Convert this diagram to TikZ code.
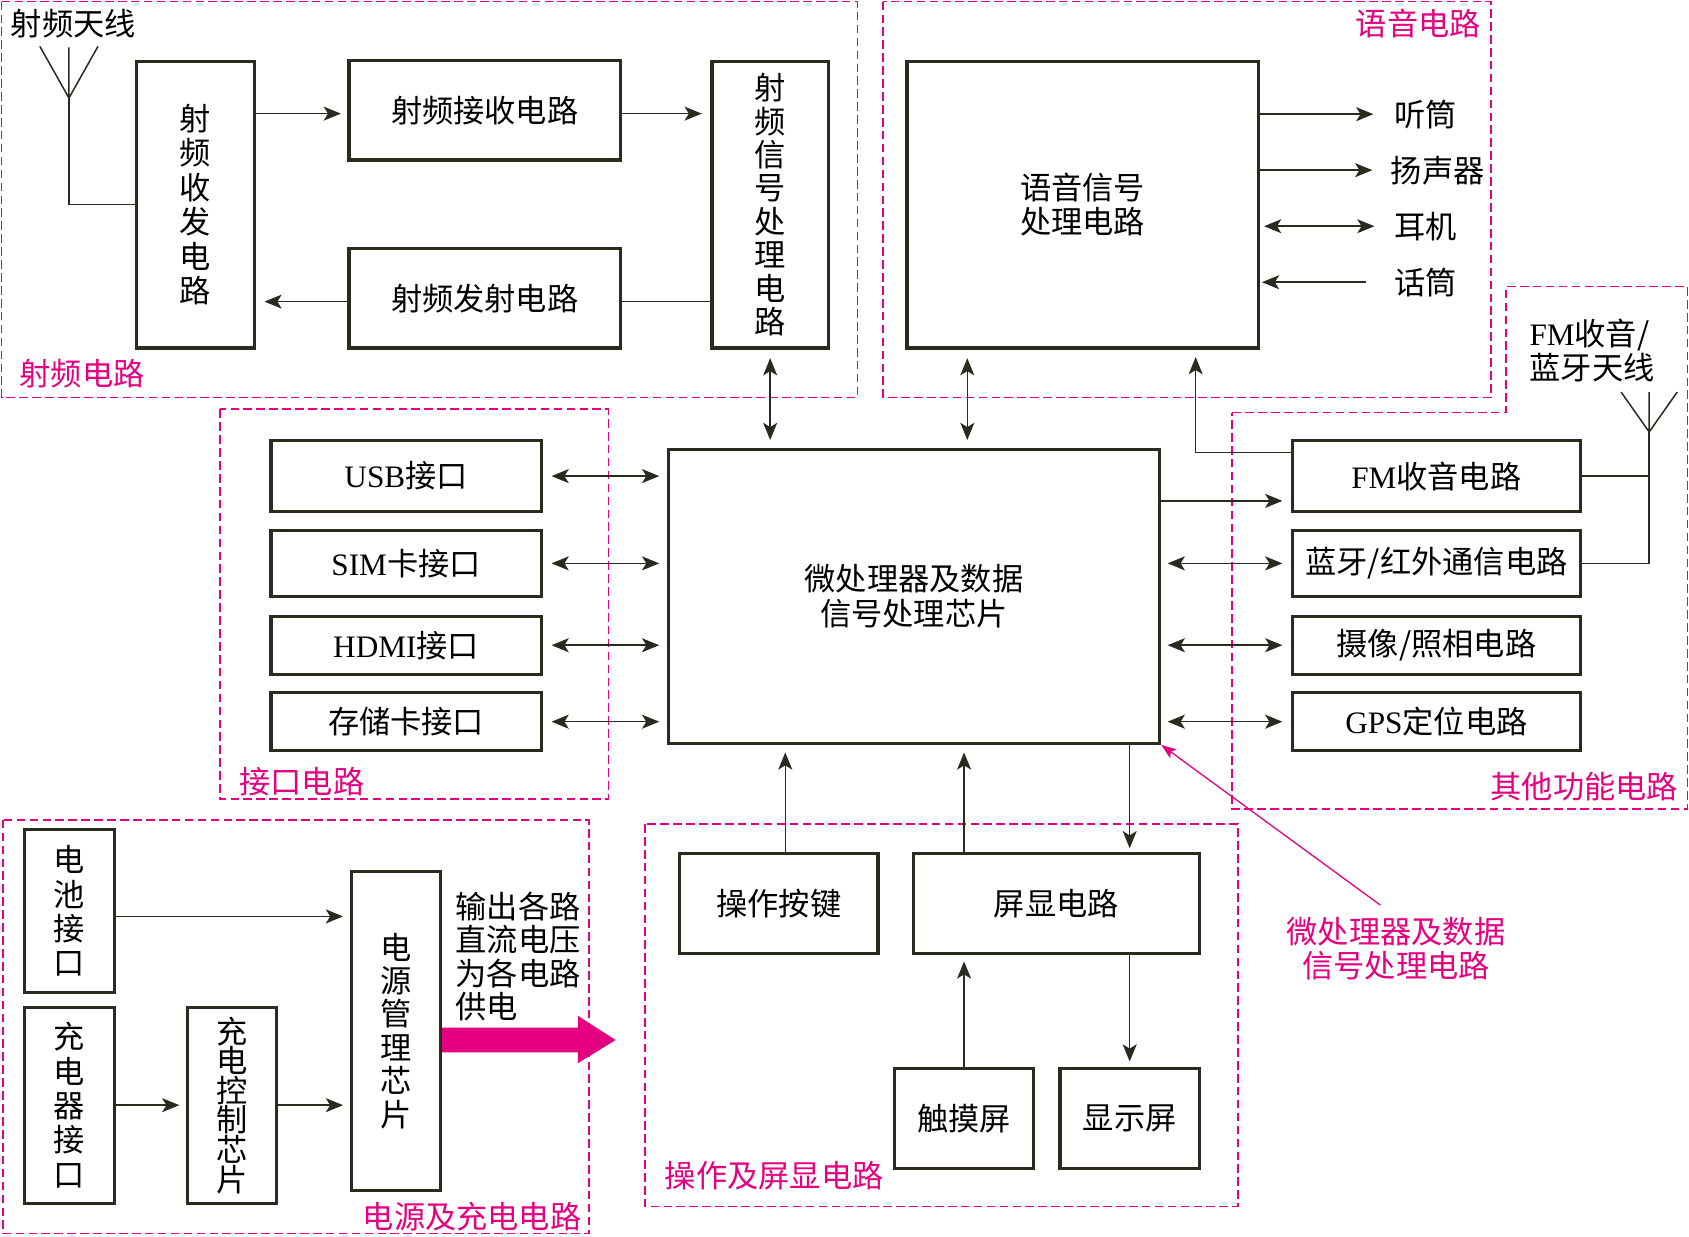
\documentclass[tikz,border=0pt]{standalone}
\usepackage{fontspec}
\setmainfont{Noto Sans CJK SC}
\newfontfamily\enfont{Liberation Serif}
\usetikzlibrary{arrows.meta,positioning}
\definecolor{ink}{RGB}{43,42,30}
\definecolor{mag}{RGB}{228,0,127}

\begin{document}
\begin{tikzpicture}[x=1pt,y=-1pt,line join=miter,font=\fontsize{29}{32}\selectfont,
  blk/.style={draw=ink,line width=3pt,fill=white,inner sep=0pt,align=center},
  wire/.style={draw=ink,line width=1.4pt},
  arr/.style={wire,-{Stealth[length=16pt,width=13pt,inset=4pt]}},
  darr/.style={wire,{Stealth[length=16pt,width=13pt,inset=4pt]}-{Stealth[length=16pt,width=13pt,inset=4pt]}},
  grp/.style={draw=mag,line width=1.6pt,dash pattern=on 8pt off 4pt},
  grplbl/.style={text=mag,inner sep=0pt},
  lbl/.style={text=black,inner sep=0pt}]

  \useasboundingbox (0,0) rectangle (1568,1148);

  % ---- i riquadri tratteggiati ---------------------------------------------
  \draw[grp] (1.5,1.5) rectangle (796,369);
  \draw[grp] (820,1.5) rectangle (1384,369);
  \draw[grp] (204,380) rectangle (565,742);
  \draw[grp] (1144,383) -- (1398,383) -- (1398,266) -- (1566.5,266)
                        -- (1566.5,751) -- (1144,751) -- cycle;
  \draw[grp] (2.5,761) rectangle (547,1145);
  \draw[grp] (599,765) rectangle (1149,1120);

  \node[grplbl,anchor=west] (rflbl)  at (18,347)   {射频电路};
  \node[grplbl,anchor=east] (auxlbl) at (1375,22)  {语音电路};
  \node[grplbl,anchor=west] (iflbl)  at (222,726)  {接口电路};
  \node[grplbl,anchor=east] (othlbl) at (1558,730) {其他功能电路};
  \node[grplbl,anchor=east] (pwrlbl) at (540,1129) {电源及充电电路};
  \node[grplbl,anchor=west] (oplbl)  at (617,1091) {操作及屏显电路};

  % ---- il chip centrale ----------------------------------------------------
  \node[blk,minimum width=456,minimum height=273] (mcu) at (848.5,553.5)
    {微处理器及数据\\信号处理芯片};

  % ----射频电路 -------------------------------------------------------------
  \node[lbl,anchor=west] (rfantlbl) at (10,22) {射频天线};
  \node[blk,minimum width=109,minimum height=266] (trx) at (181.5,190) {射\\频\\收\\发\\电\\路};
  \node[blk,minimum width=252,minimum height=92] (rx) at (450,102.5) {射频接收电路};
  \node[blk,minimum width=252,minimum height=92] (tx) at (450,277) {射频发射电路};
  \node[blk,minimum width=108,minimum height=266,font=\fontsize{29}{31}\selectfont] (rfsp)
    at (715,190) {射\\频\\信\\号\\处\\理\\电\\路};

  \coordinate (rfant) at (64,91);
  \draw[wire] (rfant) -- ++(-27,-48) (rfant) -- ++(0,-47) (rfant) -- ++(27,-48);
  \draw[wire] (trx.west) -| (rfant);

  \draw[arr,shorten >=6pt] ([yshift=-3pt]trx.east |- rx.west) -- ([yshift=-3pt]rx.west);
  \draw[arr,shorten >=8pt] ([yshift=-3pt]rx.east) -- ([yshift=-3pt]rx.east -| rfsp.west);
  \draw[arr,shorten >=8pt] ([yshift=-3pt]tx.west) -- ([yshift=-3pt]tx.west -| trx.east);
  \draw[wire] ([yshift=-3pt]tx.east) -- ([yshift=-3pt]tx.east -| rfsp.west);
  \draw[darr,shorten <=8pt,shorten >=7pt] (rfsp.south) -- (rfsp.south |- mcu.north);

  % ---- 语音电路 -------------------------------------------------------------
  \node[blk,minimum width=326,minimum height=266] (voice) at (1005,190) {语音信号\\处理电路};
  \node[lbl,anchor=west] (ear) at (1294,106) {听筒};
  \node[lbl,anchor=west] (spk) at (1291,158) {扬声器};
  \node[lbl,anchor=west] (hph) at (1294,210) {耳机};
  \node[lbl,anchor=west] (mic) at (1294,262) {话筒};

  \draw[arr,shorten >=19pt] (voice.east |- ear.west) -- (ear.west);
  \draw[arr,shorten >=17pt] (voice.east |- spk.west) -- (spk.west);
  \draw[darr,shorten <=4pt,shorten >=18pt] (voice.east |- hph.west) -- (hph.west);
  \draw[arr,shorten <=26pt,shorten >=2pt] (mic.west) -- (voice.east |- mic.west);

  \coordinate (vm) at (898,0);
  \draw[darr,shorten <=8pt,shorten >=7pt] (vm |- voice.south) -- (vm |- mcu.north);

  % ---- 接口电路 -------------------------------------------------------------
  \foreach \nm/\yy/\hh/\txt in {usb/442/66/{{\enfont USB}接口},sim/523/61/{{\enfont SIM}卡接口},
                                hdmi/599/54/{{\enfont HDMI}接口},sd/670/54/{存储卡接口}}{
    \node[blk,minimum width=251,minimum height=\hh] (\nm) at (377,\yy) {\txt};
    \draw[darr,shorten <=8pt,shorten >=7pt] (\nm.east) -- (\nm.east -| mcu.west);
  }

  % ---- 其他功能电路 ---------------------------------------------------------
  \foreach \nm/\yy/\hh/\txt in {fm/442/66/{{\enfont FM}收音电路},bt/523/61/{蓝牙/红外通信电路},
                                cam/599/54/{摄像/照相电路},gps/670/54/{{\enfont GPS}定位电路}}{
    \node[blk,minimum width=267,minimum height=\hh] (\nm) at (1333.5,\yy) {\txt};
  }
  \draw[arr,shorten >=8pt] ([yshift=-23pt]fm.west -| mcu.east) -- ([yshift=-23pt]fm.west);
  \foreach \nm in {bt,cam,gps}
    \draw[darr,shorten <=6pt,shorten >=8pt] (\nm.west -| mcu.east) -- (\nm.west);
  \draw[arr,shorten >=7pt] ([yshift=22pt]fm.west) -| ([xshift=105pt]voice.south);

  \node[lbl,align=left] (fmantlbl) at (1478,325.5) {{\enfont FM}收音/\\蓝牙天线};
  \coordinate (fmant) at (1531,401);
  \draw[wire] (fmant) -- ++(-26,-37) (fmant) -- ++(0,-37) (fmant) -- ++(26,-37);
  \draw[wire] (fm.east) -- (fm.east -| fmant);
  \draw[wire] (bt.east) -| (fmant);

  % ---- 操作及屏显电路 -------------------------------------------------------
  \node[blk,minimum width=184,minimum height=93] (keys) at (723,838.5) {操作按键};
  \node[blk,minimum width=265.5,minimum height=93] (disp) at (980.75,838.5) {屏显电路};
  \node[blk,minimum width=129.5,minimum height=93] (touch) at (895,1038.5) {触摸屏};
  \node[blk,minimum width=129.5,minimum height=93] (screen) at (1048.75,1038.5) {显示屏};

  \coordinate (kx) at (729,0);
  \draw[arr,shorten >=7pt] (kx |- keys.north) -- (kx |- mcu.south);
  \draw[arr,shorten >=7pt] (touch.north |- disp.north) -- (touch.north |- mcu.south);
  \draw[arr,shorten >=3pt] (screen.north |- mcu.south) -- (screen.north |- disp.north);
  \draw[arr,shorten >=6pt] (touch.north) -- (touch.north |- disp.south);
  \draw[arr,shorten >=5pt] (screen.north |- disp.south) -- (screen.north);

  % ---- la nota sul chip ----------------------------------------------------
  \node[grplbl,align=center] (note) at (1296,880.5) {微处理器及数据\\信号处理电路};
  \draw[mag,line width=1.2pt,-{Stealth[length=14pt,width=10pt,inset=3pt]},shorten <=18pt]
    (note.north) -- (mcu.south east);

  % ---- 电源及充电电路 -------------------------------------------------------
  \node[blk,minimum width=83,minimum height=151.5] (bat) at (64.5,845.75) {电\\池\\接\\口};
  \node[blk,minimum width=83,minimum height=182] (chg) at (64.5,1026) {充\\电\\器\\接\\口};
  \node[blk,minimum width=83,minimum height=182,font=\fontsize{29}{27.5}\selectfont] (ctl)
    at (215.5,1026) {充\\电\\控\\制\\芯\\片};
  \node[blk,minimum width=83,minimum height=296,font=\fontsize{29}{31}\selectfont] (pmu)
    at (367.5,957) {电\\源\\管\\理\\芯\\片};

  \draw[arr,shorten >=6pt] ([yshift=-5pt]bat.east) -- ([yshift=-5pt]bat.east -| pmu.west);
  \draw[arr,shorten >=6pt] (chg.east) -- (ctl.west);
  \draw[arr,shorten >=6pt] (ctl.east) -- (ctl.east -| pmu.west);

  \node[lbl,align=left,font=\fontsize{29}{31}\selectfont] (out) at (481,888)
    {输出各路\\直流电压\\为各电路\\供电};
  \coordinate (pw) at ([yshift=-8.5pt]pmu.east);
  \fill[mag,shift={(pw)}] (0,-11.5) -- (126,-11.5) -- (126,-22.5) -- (161,0)
                          -- (126,21.5) -- (126,11.5) -- (0,11.5) -- cycle;

\end{tikzpicture}
\end{document}
